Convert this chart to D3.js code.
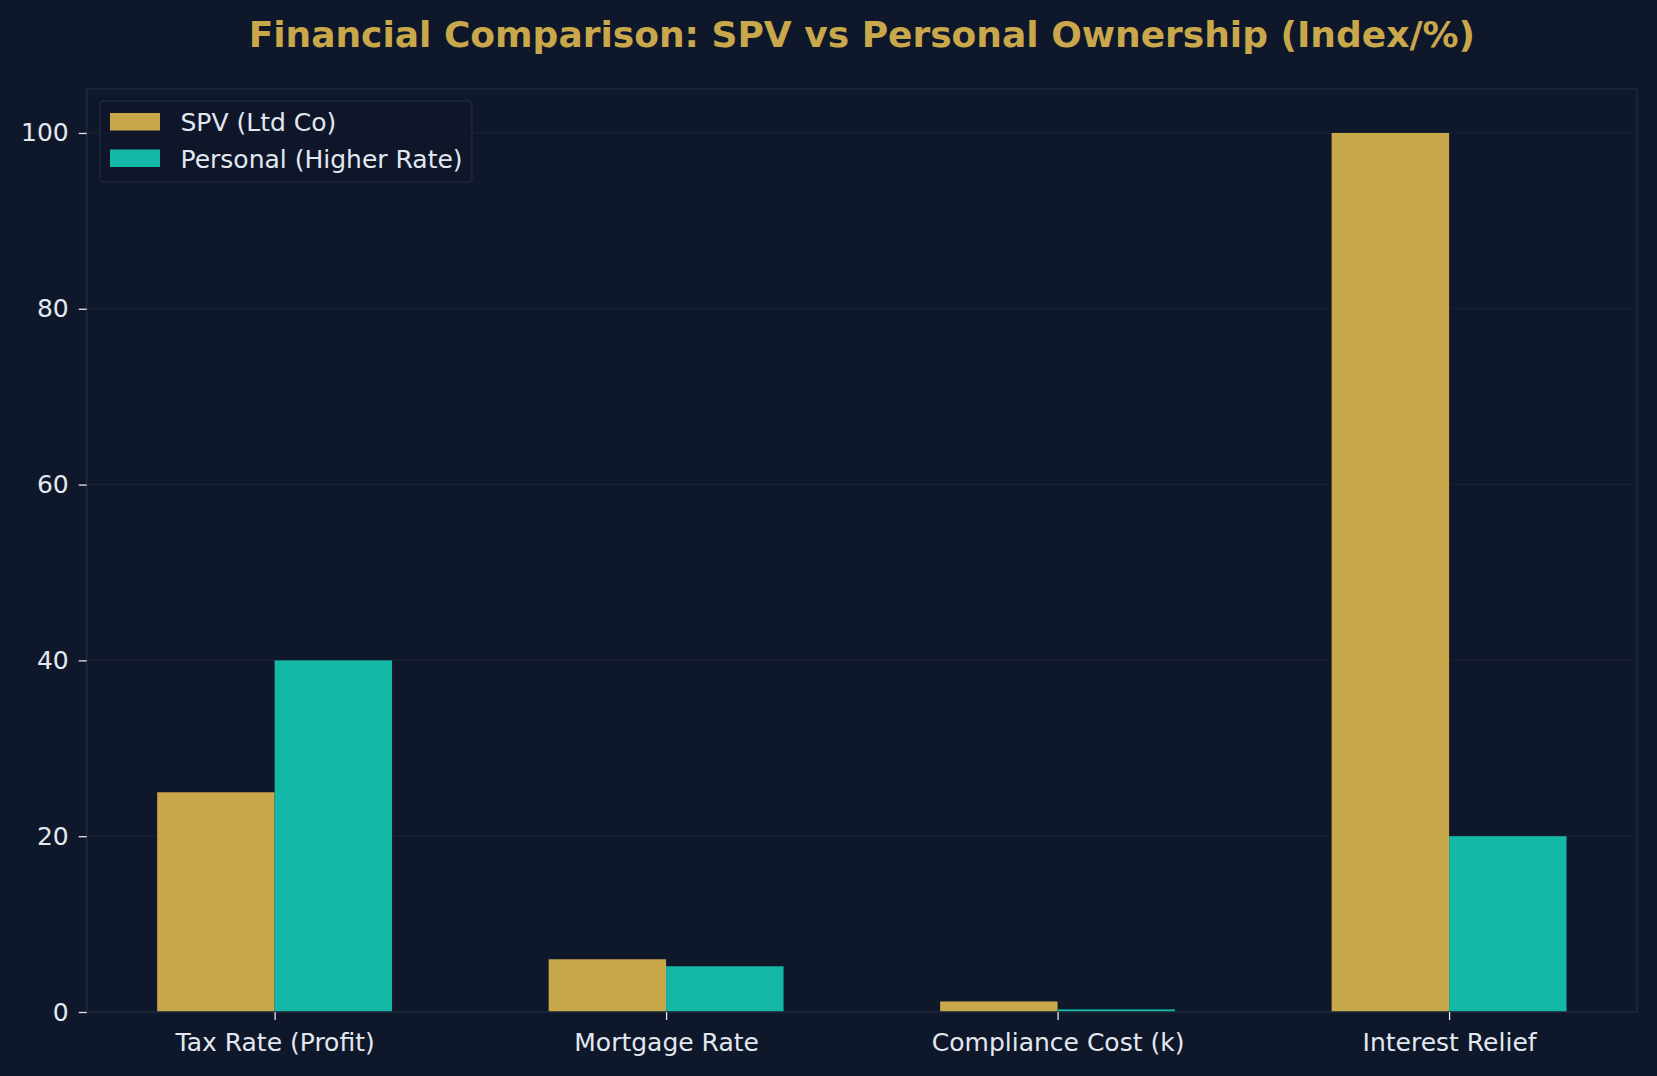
<!DOCTYPE html>
<html>
<head>
<meta charset="utf-8">
<script src="https://cdn.jsdelivr.net/npm/d3@7"></script>
<style>
  html, body { margin: 0; padding: 0; background: #0f172a; }
  svg { display: block; }
  text { font-family: "DejaVu Sans", sans-serif; }
</style>
</head>
<body>
<script>
// data
var categories = ["Tax Rate (Profit)", "Mortgage Rate", "Compliance Cost (k)", "Interest Relief"];
var spvValues = [25, 6.0, 1.2, 100];
var personalValues = [40, 5.2, 0.3, 20];
var seriesNames = ["SPV (Ltd Co)", "Personal (Higher Rate)"];
var yTicks = [0, 20, 40, 60, 80, 100];

var W = 1657, H = 1076;
var bg = "#0f172a", spine = "#1e293b", txt = "#e2e8f0";
var gold = "#c9a84c", teal = "#14b8a6";
var plot = {left: 86.7, right: 1637, top: 89, bottom: 1012};
var barW = 0.3;

var svg = d3.select("body").append("svg")
	.attr("width", W)
	.attr("height", H);

svg.append("rect").attr("width", W).attr("height", H).attr("fill", bg);

// scales - x is numeric index like matplotlib, with 5% margins
var x = d3.scaleLinear().domain([-0.48, 3.48]).range([plot.left, plot.right]);
var y = d3.scaleLinear().domain([0, 105]).range([plot.bottom, plot.top]);

// grid
svg.append("g").selectAll("line")
	.data(yTicks.filter(function (d) { return d > 0; }))
	.join("line")
	.attr("x1", plot.left).attr("x2", plot.right)
	.attr("y1", function (d) { return y(d); })
	.attr("y2", function (d) { return y(d); })
	.attr("stroke", "#1b2536")
	.attr("stroke-width", 1);

// bars
var series = [spvValues, personalValues];
var colors = [gold, teal];
series.forEach(function (vals, s) {
	svg.append("g").selectAll("rect")
		.data(vals)
		.join("rect")
		.attr("x", function (d, i) { return x(i + (s === 0 ? -barW : 0)); })
		.attr("width", x(barW) - x(0))
		.attr("y", function (d) { return y(d); })
		.attr("height", function (d) { return y(0) - y(d); })
		.attr("fill", colors[s]);
});

// frame
svg.append("rect")
	.attr("x", plot.left).attr("y", plot.top)
	.attr("width", plot.right - plot.left)
	.attr("height", plot.bottom - plot.top)
	.attr("fill", "none")
	.attr("stroke", spine)
	.attr("stroke-width", 1.6);

// axes
var yAxis = d3.axisLeft(y).tickValues(yTicks).tickSize(8).tickPadding(10);
var gy = svg.append("g").attr("transform", "translate(" + plot.left + ",0)").call(yAxis);
var xAxis = d3.axisBottom(x).tickValues(d3.range(categories.length))
	.tickFormat(function (i) { return categories[i]; })
	.tickSize(8).tickPadding(13);
var gx = svg.append("g").attr("transform", "translate(0," + plot.bottom + ")").call(xAxis);

[gx, gy].forEach(function (g) {
	g.select(".domain").remove();
	g.selectAll(".tick line").attr("stroke", txt).attr("stroke-width", 1.3);
	g.selectAll(".tick text")
		.attr("fill", txt)
		.style("font-family", "DejaVu Sans, sans-serif")
		.style("font-size", "25px");
});

// title
svg.append("text")
	.attr("x", (plot.left + plot.right) / 2)
	.attr("y", 47)
	.attr("text-anchor", "middle")
	.attr("fill", gold)
	.style("font-size", "36px")
	.style("font-weight", "bold")
	.text("Financial Comparison: SPV vs Personal Ownership (Index/%)");

// legend
var lg = svg.append("g");
lg.append("rect")
	.attr("x", 100).attr("y", 101)
	.attr("width", 372).attr("height", 81)
	.attr("rx", 4)
	.attr("fill", "#0f172a")
	.attr("fill-opacity", 0.8)
	.attr("stroke", spine)
	.attr("stroke-width", 1.6);
seriesNames.forEach(function (name, i) {
	var cy = 121.5 + i * 36.5;
	lg.append("rect")
		.attr("x", 110).attr("y", cy - 8.5)
		.attr("width", 50).attr("height", 17.5)
		.attr("fill", colors[i]);
	lg.append("text")
		.attr("x", 180.5).attr("y", cy + 9.5)
		.attr("fill", txt)
		.style("font-size", "25px")
		.text(name);
});
</script>
</body>
</html>
